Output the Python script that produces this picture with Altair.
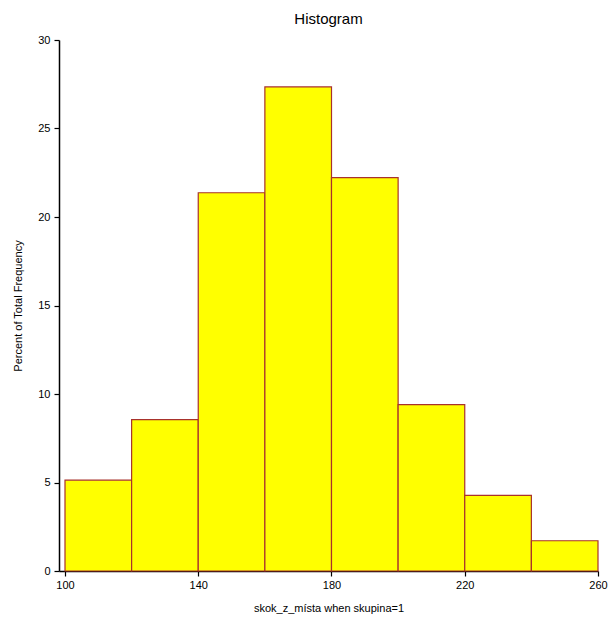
import altair as alt
import pandas as pd

# Bin edges and the percent of total frequency in each bin
bin_start = [100, 120, 140, 160, 180, 200, 220, 240]
bin_end = [120, 140, 160, 180, 200, 220, 240, 260]
percent = [5.13, 8.55, 21.37, 27.35, 22.22, 9.40, 4.27, 1.71]

x_ticks = [100, 140, 180, 220, 260]
y_ticks = [0, 5, 10, 15, 20, 25, 30]

df = pd.DataFrame({"start": bin_start, "end": bin_end, "pct": percent})

FONT = "Liberation Sans"

bars = alt.Chart(df).mark_rect(
    fill="#ffff00", stroke="#a8322c", strokeWidth=1.2
).encode(
    x=alt.X(
        "start:Q",
        scale=alt.Scale(domain=[98.2, 260], nice=False, zero=False),
        axis=alt.Axis(
            values=x_ticks, title="skok_z_místa when skupina=1",
            grid=False, tickSize=5, labelPadding=3, titlePadding=12,
            domainColor="#000000", tickColor="#000000",
            domainWidth=1.5, tickWidth=1.2,
            labelFontSize=11, titleFontSize=11, titleFontWeight="normal",
            labelFont=FONT, titleFont=FONT, labelColor="#000000", titleColor="#000000",
            labelFlush=False,
        ),
    ),
    x2="end:Q",
    y=alt.Y(
        "pct:Q",
        scale=alt.Scale(domain=[0, 30], nice=False),
        axis=alt.Axis(
            values=y_ticks, title="Percent of Total Frequency",
            grid=False, tickSize=5, labelPadding=4, titlePadding=14,
            domainColor="#000000", tickColor="#000000",
            domainWidth=1.5, tickWidth=1.2,
            labelFontSize=11, titleFontSize=11, titleFontWeight="normal",
            labelFont=FONT, titleFont=FONT, labelColor="#000000", titleColor="#000000",
        ),
    ),
    y2=alt.datum(0),
)

chart = bars.properties(
    width=539,
    height=531,
    title=alt.TitleParams(
        "Histogram", font=FONT, fontSize=15, fontWeight="normal",
        color="#000000", offset=7,
    ),
    padding={"left": 59, "top": 40, "right": 11, "bottom": 48},
    autosize=alt.AutoSizeParams(type="none"),
).configure_view(stroke=None)

chart.save("out.html", embed_options={"renderer": "svg", "actions": False})
